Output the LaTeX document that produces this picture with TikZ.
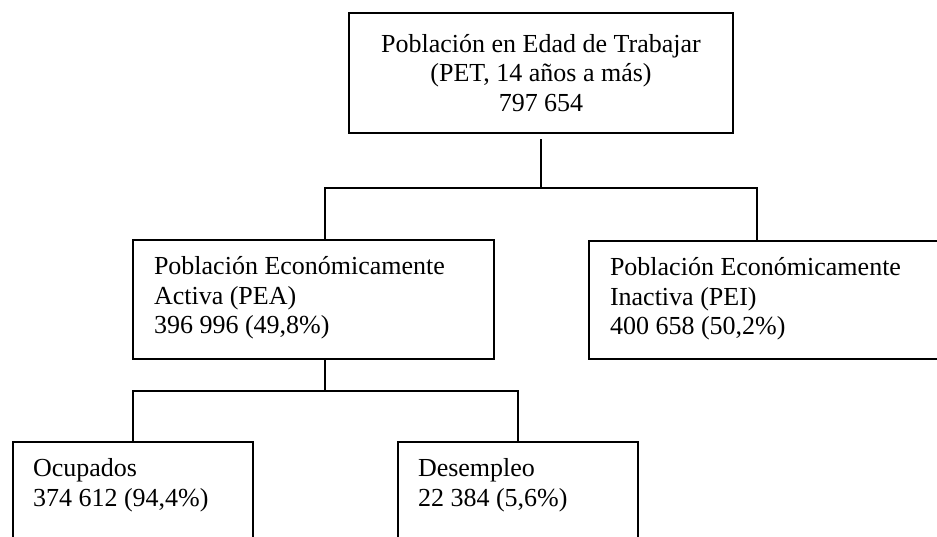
\documentclass[tikz,border=0pt]{standalone}
\usepackage{fontspec}
\setmainfont{Liberation Serif}
\begin{document}
\begin{tikzpicture}[x=0.5pt,y=-0.5pt,
    font=\fontsize{13pt}{14.75pt}\selectfont,
    caja/.style={draw, line width=1pt, rectangle, anchor=north west, inner xsep=10.5pt, inner ysep=7pt},
    linea/.style={line width=1pt}]
\useasboundingbox (0,0) rectangle (937,536);
\clip (0,0) rectangle (937,536);

% boxes
\node (pet) at (541,73) [draw, line width=1pt, rectangle, minimum width=192pt, minimum height=60pt, inner sep=0pt, align=center] {Población en Edad de Trabajar\\(PET, 14 años a más)\\797 654};

\node (pea) at (132,239) [caja] {\begin{minipage}[t][45.5pt][t]{159.5pt}\strut Población Económicamente\\Activa (PEA)\\396 996 (49,8\%)\end{minipage}};
\node (pei) at (588,240) [caja] {\begin{minipage}[t][45pt][t]{165pt}\strut Población Económicamente\\Inactiva (PEI)\\400 658 (50,2\%)\end{minipage}};

\node (ocu) at (12,441) [caja, inner xsep=10pt] {\begin{minipage}[t][45.5pt][t]{100pt}\strut Ocupados\\374 612 (94,4\%)\end{minipage}};
\node (des) at (397,441) [caja, inner xsep=10pt] {\begin{minipage}[t][45.5pt][t]{100pt}\strut Desempleo\\22 384 (5,6\%)\end{minipage}};

% connectors
\coordinate (r1) at (541,188);
\coordinate (r2) at (325,391);
\coordinate (r3) at (757,188);
\draw[linea, shorten <=2.5pt] (pet.south) -- (r1);
\draw[linea] (pea.north -| r2) |- (r1) -| (pei.north -| r3);
\draw[linea] (pea.south -| r2) -- (r2);
\draw[linea] (ocu.north) |- (r2) -| (des.north);
\end{tikzpicture}
\end{document}
